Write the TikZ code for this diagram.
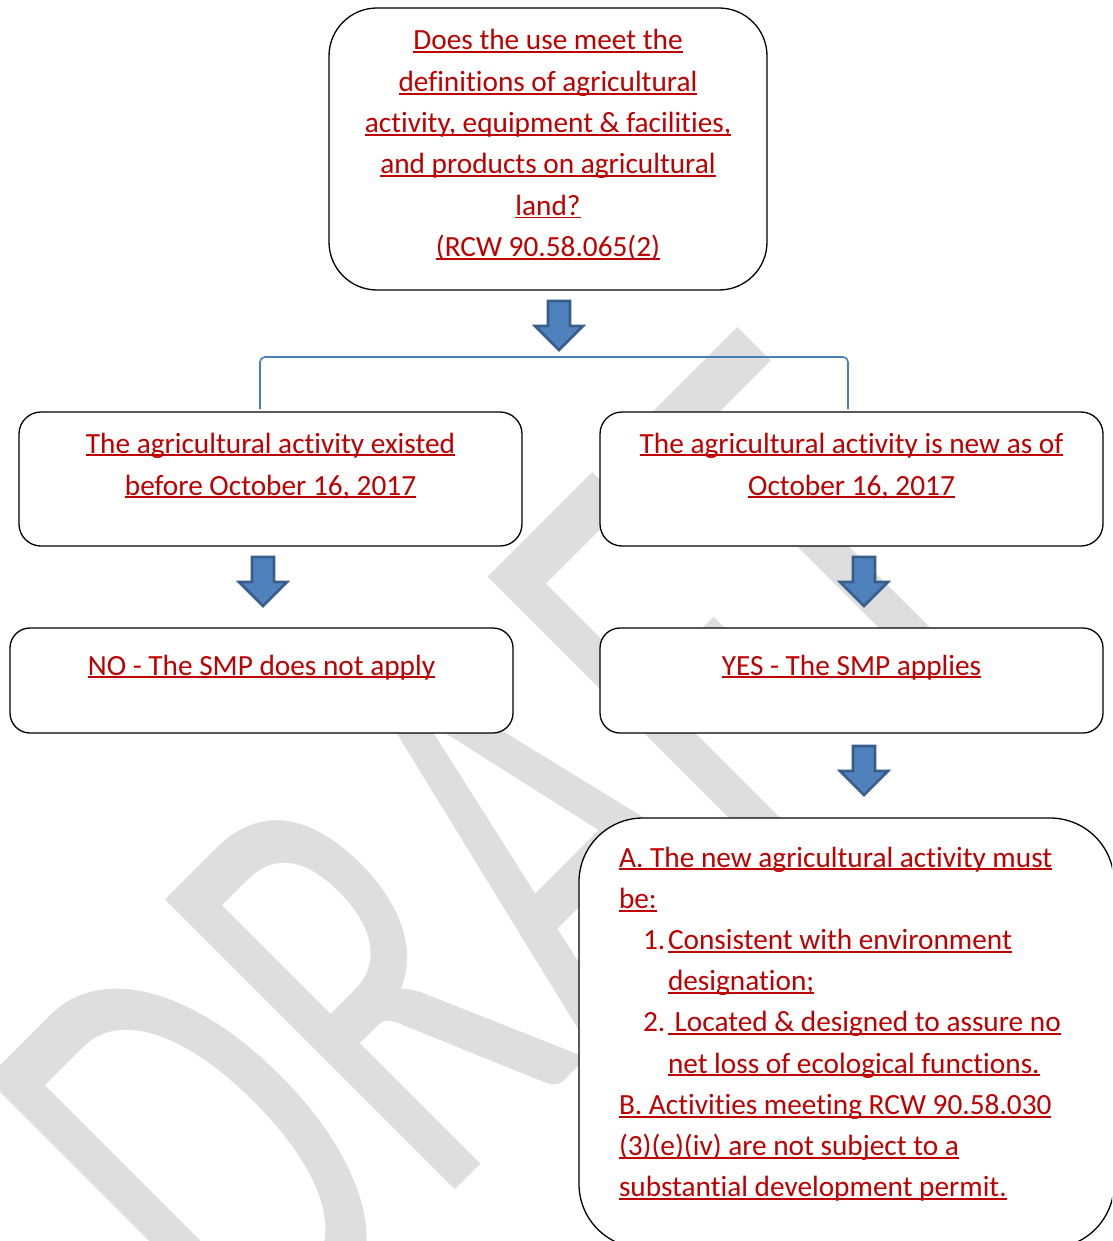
\documentclass[tikz,border=0pt]{standalone}
\usepackage{fontspec}
\setmainfont{Carlito}[Ligatures=NoCommon]
\usetikzlibrary{calc}
\definecolor{wred}{RGB}{192,0,0}
\definecolor{wmark}{RGB}{222,222,222}
\definecolor{afill}{RGB}{79,129,189}
\definecolor{aline}{RGB}{56,93,138}
\definecolor{bline}{RGB}{74,126,187}
\newcommand\uln[1]{\setbox0=\hbox{#1}\rlap{\color{wred}\rule[-3.3pt]{\wd0}{1.9pt}}\box0}
\newcommand\blockarrow[1]{%
  \filldraw[barrow] ($(#1)+(-11,0)$) -- ($(#1)+(11,0)$) -- ($(#1)+(11,25)$) -- ($(#1)+(24,25)$)
    -- ($(#1)+(0,49)$) -- ($(#1)+(-24,25)$) -- ($(#1)+(-11,25)$) -- cycle;}
\tikzset{
  box/.style={draw=black, line width=1.3pt, fill=white, inner sep=0pt, outer sep=0pt},
  txt/.style={text=wred, font=\fontsize{29.3}{41.3}\selectfont, inner sep=0pt, outer sep=0pt},
  barrow/.style={fill=afill, draw=aline, line width=2.6pt, line join=miter},
  bracketline/.style={draw=bline, line width=1.6pt, rounded corners=5pt},
  wmtext/.style={text=wmark, font=\fontsize{408}{408}\selectfont, inner sep=0pt, outer sep=0pt},
}
\begin{document}
\begin{tikzpicture}[x=1pt,y=-1pt]
\useasboundingbox (0,0) rectangle (1112,1241);
\clip (0,0) rectangle (1112,1241);
\fill[white] (0,0) rectangle (1112,1241);

% watermark
\node[wmtext, anchor=base west, rotate=45, yscale=1.566] (wm) at (257,1388) {DRAFT};

% bracket
\coordinate (bl) at (260,409);
\coordinate (br) at (848,409);
\draw[bracketline] (bl) -- ++(0,-52) -| (br);

% block arrows
\coordinate (a1) at (559,301);
\coordinate (a2) at (263,557);
\coordinate (a3) at (864,557);
\coordinate (a4) at (864,746);
\blockarrow{a1}
\blockarrow{a2}
\blockarrow{a3}
\blockarrow{a4}

% boxes
\node[box, rounded corners=48pt, minimum width=438pt, minimum height=282pt] (q) at (548,149) {};
\node[box, rounded corners=22pt, minimum width=503pt, minimum height=134pt] (old) at (270.5,479) {};
\node[box, rounded corners=22pt, minimum width=503pt, minimum height=134pt] (new) at (851.5,479) {};
\node[box, rounded corners=20pt, minimum width=503pt, minimum height=105pt] (no) at (261.5,680.5) {};
\node[box, rounded corners=20pt, minimum width=503pt, minimum height=105pt] (yes) at (851.5,680.5) {};
\node[box, rounded corners=64pt, minimum width=535pt, minimum height=430pt] (req) at (846.5,1033) {};

% texts
\foreach \t [count=\i from 0] in {Does the use meet the, definitions of agricultural, {activity, equipment \& facilities,}, and products on agricultural, land?, (RCW 90.58.065(2)}
  \node[txt, anchor=base] (qt\i) at (548,{50+41.3*\i}) {\uln{\t}};

\node[txt, anchor=base] (oldt1) at (270.5,453) {\uln{The agricultural activity existed}};
\node[txt, anchor=base] (oldt2) at (270.5,495) {\uln{before October 16, 2017}};
\node[txt, anchor=base] (newt1) at (851.5,453) {\uln{The agricultural activity is new as of}};
\node[txt, anchor=base] (newt2) at (851.5,495) {\uln{October 16, 2017}};
\node[txt, anchor=base] (not) at (261.5,675) {\uln{NO - The SMP does not apply}};
\node[txt, anchor=base] (yest) at (851.5,675) {\uln{YES - The SMP applies}};

\node[txt, anchor=base west] (r1) at (619,867) {\uln{A. The new agricultural activity must}};
\node[txt, anchor=base west] (r2) at (619,908.2) {\uln{be:}};
\node[txt, anchor=base west] (n1) at (643,949.4) {1.};
\node[txt, anchor=base west] (r3) at (668,949.4) {\uln{Consistent with environment}};
\node[txt, anchor=base west] (r4) at (668,990.6) {\uln{designation;}};
\node[txt, anchor=base west] (n2) at (643,1031.8) {2.};
\node[txt, anchor=base west] (r5) at (668,1031.8) {\uln{\ Located \& designed to assure no}};
\node[txt, anchor=base west] (r6) at (668,1073) {\uln{net loss of ecological functions.}};
\node[txt, anchor=base west] (r7) at (619,1114.2) {\uln{B. Activities meeting RCW 90.58.030}};
\node[txt, anchor=base west] (r8) at (619,1155.4) {\uln{(3)(e)(iv) are not subject to a}};
\node[txt, anchor=base west] (r9) at (619,1196.6) {\uln{substantial development permit.}};
\end{tikzpicture}
\end{document}
